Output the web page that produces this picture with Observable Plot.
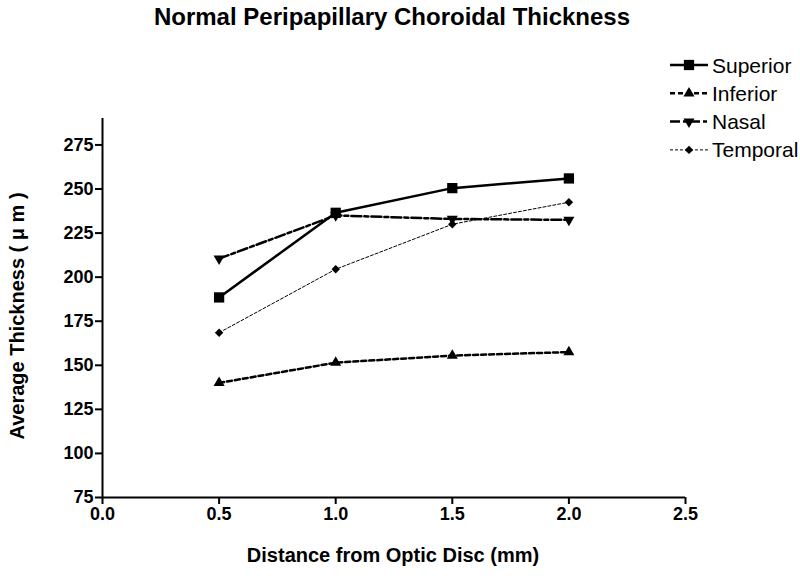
<!DOCTYPE html>
<html><head><meta charset="utf-8">
<script src="https://cdn.jsdelivr.net/npm/d3@7"></script>
<script src="https://cdn.jsdelivr.net/npm/@observablehq/plot@0.6"></script>
<style>body{margin:0;background:#fff;font-family:"Liberation Sans",Arial,sans-serif}</style>
</head><body><div id="chart"></div>
<script>
const distances = [0.5, 1.0, 1.5, 2.0];
const seriesNames = ["Superior", "Inferior", "Nasal", "Temporal"];
const superior = [188.5, 236.5, 250.5, 256];
const inferior = [140, 151.5, 155.5, 157.5];
const nasal = [210.5, 235, 233, 232.5];
const temporal = [168.5, 204.5, 230, 242.5];
const xTicks = [0, 0.5, 1.0, 1.5, 2.0, 2.5];
const yTicks = [75, 100, 125, 150, 175, 200, 225, 250, 275];

const values = [superior, inferior, nasal, temporal];
const styles = {
  Superior: {dash: "none", width: 2.5, symbol: "square", r: 5.8, rotate: 0},
  Inferior: {dash: "5,3", width: 2.5, symbol: "triangle", r: 4.1, rotate: 0},
  Nasal: {dash: "10,3,4,3", width: 2.5, symbol: "triangle", r: 4.1, rotate: 180},
  Temporal: {dash: "3,2", width: 1, symbol: "diamond2", r: 3.8, rotate: 0}
};
const data = seriesNames.flatMap((s, i) => values[i].map((v, j) => ({series: s, x: distances[j], y: v})));

const marks = [
  Plot.ruleX([0], {y1: 75, y2: 290, strokeWidth: 2}),
  Plot.ruleY([75], {x1: 0, x2: 2.5, strokeWidth: 2}),
  Plot.axisX({ticks: xTicks, tickFormat: d3.format(".1f"), tickSize: 7, tickPadding: 3, strokeWidth: 2, fontSize: 18, fontWeight: "bold", label: null}),
  Plot.axisY({ticks: yTicks, tickSize: 7, tickPadding: 2, strokeWidth: 2, fontSize: 18, fontWeight: "bold", label: null})
];
for (const s of seriesNames) {
  const st = styles[s];
  const d = data.filter(e => e.series === s);
  marks.push(Plot.line(d, {x: "x", y: "y", stroke: "black", strokeWidth: st.width, strokeDasharray: st.dash}));
  marks.push(Plot.dot(d, {x: "x", y: "y", symbol: st.symbol, r: st.r, fill: "black", stroke: "none", rotate: st.rotate}));
}

const chart = Plot.plot({
  width: 800, height: 580,
  marginLeft: 102, marginRight: 115, marginTop: 118, marginBottom: 83,
  x: {domain: [0, 2.5]},
  y: {domain: [75, 290]},
  style: {fontFamily: '"Liberation Sans", Arial, sans-serif', color: "black", background: "white", overflow: "visible"},
  marks
});
document.getElementById("chart").append(chart);

const svg = d3.select(chart);
svg.append("text").attr("x", 392).attr("y", 25).attr("text-anchor", "middle")
  .attr("font-size", 24).attr("font-weight", "bold").attr("fill", "black")
  .text("Normal Peripapillary Choroidal Thickness");
svg.append("text").attr("x", 393).attr("y", 562).attr("text-anchor", "middle")
  .attr("font-size", 20).attr("font-weight", "bold").attr("fill", "black")
  .text("Distance from Optic Disc (mm)");
svg.append("text").attr("transform", "translate(24,316) rotate(-90)").attr("text-anchor", "middle")
  .attr("font-size", 20).attr("font-weight", "bold").attr("fill", "black")
  .text("Average Thickness ( μ m )");

const symMap = {square: d3.symbolSquare, triangle: d3.symbolTriangle, diamond2: d3.symbolDiamond2};
const lg = svg.append("g");
seriesNames.forEach((s, i) => {
  const st = styles[s];
  const y = 65 + i * 28.3;
  lg.append("line").attr("x1", 670).attr("x2", 708).attr("y1", y).attr("y2", y)
    .attr("stroke", "black").attr("stroke-width", st.width).attr("stroke-dasharray", st.dash);
  lg.append("path").attr("d", d3.symbol(symMap[st.symbol], Math.PI * st.r * st.r)())
    .attr("transform", `translate(689,${y}) rotate(${st.rotate})`).attr("fill", "black");
  lg.append("text").attr("x", 712).attr("y", y).attr("dy", "0.36em").attr("text-anchor", "start")
    .attr("font-size", 21).attr("fill", "black").text(s);
});
</script></body></html>
